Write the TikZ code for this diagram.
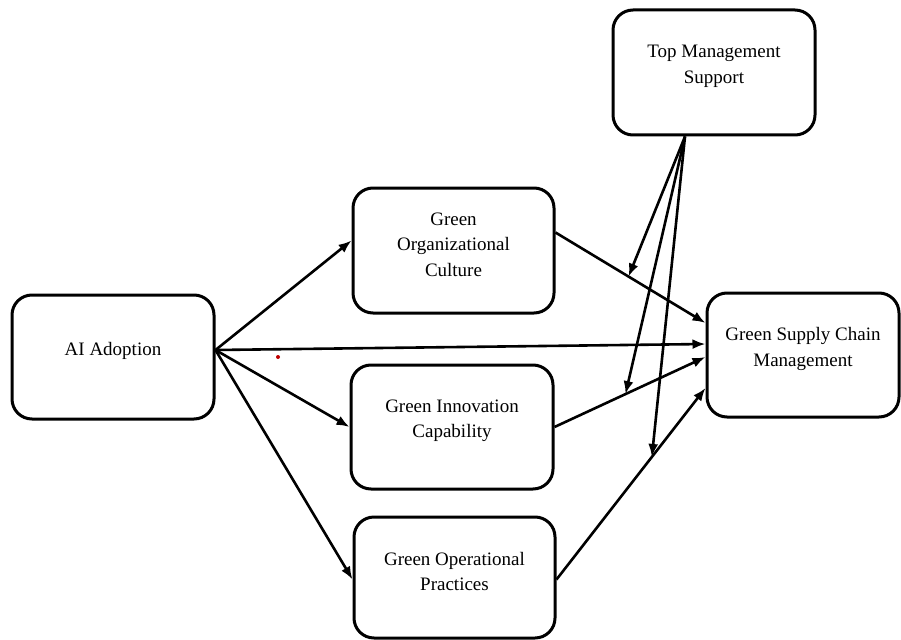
\documentclass[tikz,border=0pt]{standalone}
\usepackage{fontspec}
\setmainfont{Liberation Serif}
\usetikzlibrary{arrows.meta,calc}
\begin{document}
\begin{tikzpicture}[x=1pt,y=-1pt,
		box/.style={draw, line width=3pt, rounded corners=20pt, minimum width=#1, minimum height=124pt},
		box/.default=202pt,
		txt/.style={align=center, font=\fontsize{19}{25.5}\selectfont, yshift=6pt},
		conn/.style={-{Latex[length=13pt,width=10pt]}, line width=2.6pt}]
			\useasboundingbox (0,0) rectangle (901,639);
			%Boxes
			\node[box, label={[txt]center:AI Adoption}] (ai) at (113,357) {};
			\node[box=201pt, minimum height=125pt, label={[txt]center:{Green\\Organizational\\Culture}}] (goc) at (453.5,250.5) {};
			\node[box, label={[txt]center:{Green Innovation\\Capability}}] (gic) at (452,427) {};
			\node[box=201pt, minimum height=121pt, label={[txt]center:{Green Operational\\Practices}}] (gop) at (454.5,577.5) {};
			\node[box, minimum height=125pt, label={[txt]center:{Top Management\\Support}}] (tms) at (714,72.5) {};
			\node[box=192pt, label={[txt]center:{Green Supply Chain\\Management}}] (gscm) at (803,355) {};
			%Ends of the paths
			\coordinate (ai-o) at ([yshift=7pt]ai.east);
			\coordinate (goc-i) at ([yshift=10pt]goc.west);
			\coordinate (goc-o) at ([yshift=18pt]goc.east);
			\coordinate (gop-i) at ([yshift=-2pt]gop.west);
			\coordinate (gop-o) at ([yshift=-2pt]gop.east);
			\coordinate (gscm-a) at ([yshift=32pt]gscm.west);
			\coordinate (gscm-b) at ([yshift=11pt]gscm.west);
			\coordinate (gscm-c) at ([yshift=-2pt]gscm.west);
			\coordinate (gscm-d) at ([yshift=-33pt]gscm.west);
			\coordinate (tms-o) at ([xshift=-29pt]tms.south);
			%Paths
			\draw[conn] (ai-o) -- (goc-i);
			\draw[conn] (ai-o) -- (gic.west);
			\draw[conn] (ai-o) -- (gop-i);
			\draw[conn] (ai-o) -- (gscm-b);
			\draw[conn] (goc-o) -- (gscm-a);
			\draw[conn] (gic.east) -- (gscm-c);
			\draw[conn] (gop-o) -- (gscm-d);
			%Moderation
			\coordinate (m1) at ($(goc-o)!0.487!(gscm-a)$);
			\coordinate (m2) at ($(gic.east)!0.47!(gscm-c)$);
			\coordinate (m3) at ($(gop-o)!0.64!(gscm-d)$);
			\draw[conn] (tms-o) -- (m1);
			\draw[conn] (tms-o) -- (m2);
			\draw[conn] (tms-o) -- (m3);
			%Dot
			\fill[red!75!black] (278,357) circle (2pt);
		\end{tikzpicture}
\end{document}
